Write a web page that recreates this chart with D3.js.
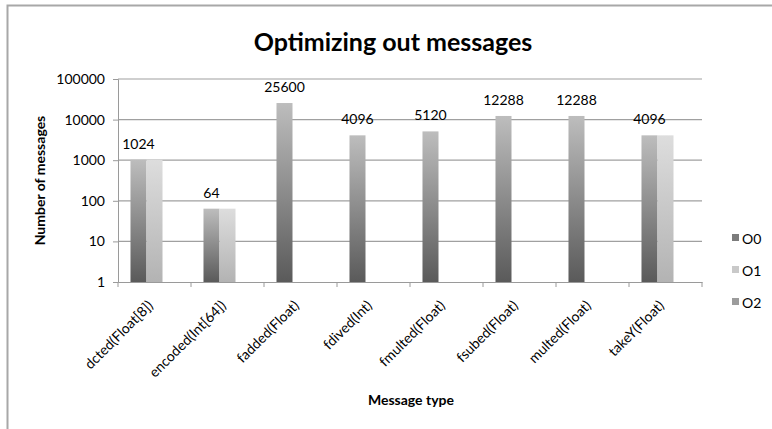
<!DOCTYPE html>
<html lang="en">
<head>
    <meta charset="UTF-8">
    <title>Optimizing out messages</title>
    <script src="https://d3js.org/d3.v7.min.js"></script>
    <style>
        body {
            margin: 0;
            background: #fff;
            font-family: Lato, 'Open Sans', sans-serif;
        }
        .tick text { font-size: 14px; fill: #000; }
        .bar-label { font-size: 14px; fill: #000; }
        .legend text { font-size: 14px; fill: #000; }
    </style>
</head>
<body>
    <div id="chart"></div>

    <script>
        // Data
        const categories = ['dcted(Float[8])', 'encoded(Int[64])', 'fadded(Float)', 'fdived(Int)',
                            'fmulted(Float)', 'fsubed(Float)', 'multed(Float)', 'takeY(Float)'];
        const seriesNames = ['O0', 'O1', 'O2'];
        const o0Values = [1024, 64, 25600, 4096, 5120, 12288, 12288, 4096];
        const o1Values = [1024, 64, null, null, null, null, null, 4096];
        const o2Values = [null, null, null, null, null, null, null, null];
        const yTicks = [1, 10, 100, 1000, 10000, 100000];

        const seriesValues = [o0Values, o1Values, o2Values];

        // Layout
        const width = 772, height = 429;
        const margin = { top: 79, right: 70, bottom: 147, left: 118 };
        const plotW = width - margin.left - margin.right;
        const plotH = height - margin.top - margin.bottom;

        // gradient stops per series: [top, bottom]
        const gradColors = {
            O0: ['#bdbdbd', '#5a5a5a'],
            O1: ['#dddddd', '#b3b3b3'],
            O2: ['#c4c4c4', '#858585']
        };
        const swatchColors = { O0: '#7c7c7c', O1: '#c9c9c9', O2: '#9c9c9c' };

        const svg = d3.select('#chart')
            .append('svg')
            .attr('width', width)
            .attr('height', height);

        const defs = svg.append('defs');
        seriesNames.forEach(s => {
            const grad = defs.append('linearGradient')
                .attr('id', 'grad-' + s)
                .attr('x1', 0).attr('y1', 0)
                .attr('x2', 0).attr('y2', 1);
            grad.append('stop').attr('offset', '0%').attr('stop-color', gradColors[s][0]);
            grad.append('stop').attr('offset', '100%').attr('stop-color', gradColors[s][1]);
        });

        // Outer frame
        svg.append('rect')
            .attr('x', 7.5).attr('y', 5.5)
            .attr('width', width + 10).attr('height', height + 10)
            .attr('fill', 'none')
            .attr('stroke', '#a8a8a8')
            .attr('stroke-width', 2);

        const g = svg.append('g')
            .attr('transform', `translate(${margin.left},${margin.top})`);

        // Scales
        const x0 = d3.scaleBand()
            .domain(categories)
            .range([0, plotW]);

        const x1 = d3.scaleBand()
            .domain(seriesNames)
            .range([0, x0.bandwidth()])
            .paddingOuter(0.78);

        const y = d3.scaleLog()
            .domain([1, 100000])
            .range([plotH, 0]);

        // Gridlines
        g.append('g')
            .selectAll('line')
            .data(yTicks.slice(1))
            .enter().append('line')
            .attr('x1', 0).attr('x2', plotW)
            .attr('y1', d => y(d)).attr('y2', d => y(d))
            .attr('stroke', '#a0a0a0')
            .attr('stroke-width', 1.2);

        // Y axis
        const yAxis = g.append('g')
            .call(d3.axisLeft(y).tickValues(yTicks).tickFormat(d3.format('d')).tickSize(5).tickPadding(8));
        yAxis.select('.domain').attr('stroke', '#9a9a9a');
        yAxis.selectAll('.tick line').attr('stroke', '#9a9a9a');
        yAxis.selectAll('.tick text').style('font-family', 'Lato, sans-serif');

        // X axis
        const xAxis = g.append('g')
            .attr('transform', `translate(0,${plotH})`)
            .call(d3.axisBottom(x0).tickSize(0).tickFormat(''));
        xAxis.select('.domain').attr('stroke', '#9a9a9a');
        // Category boundary ticks
        g.append('g')
            .selectAll('line')
            .data(d3.range(categories.length + 1))
            .enter().append('line')
            .attr('x1', i => i * x0.step()).attr('x2', i => i * x0.step())
            .attr('y1', plotH).attr('y2', plotH + 5)
            .attr('stroke', '#9a9a9a');

        // X labels rotated
        g.append('g')
            .selectAll('text')
            .data(categories)
            .enter().append('text')
            .attr('transform', d => `translate(${x0(d) + x0.bandwidth() / 2 - 4},${plotH + 21}) rotate(-45)`)
            .attr('text-anchor', 'end')
            .attr('dy', '0.35em')
            .style('font-size', '14px')
            .text(d => d);

        // Bars
        const groups = g.append('g')
            .selectAll('g')
            .data(categories)
            .enter().append('g')
            .attr('transform', d => `translate(${x0(d)},0)`);

        groups.selectAll('rect')
            .data((d, ci) => seriesNames.map((s, si) => ({ s, v: seriesValues[si][ci] })).filter(e => e.v != null))
            .enter().append('rect')
            .attr('x', d => x1(d.s))
            .attr('width', x1.bandwidth())
            .attr('y', d => y(d.v))
            .attr('height', d => plotH - y(d.v))
            .attr('fill', d => `url(#grad-${d.s})`);

        // Data labels (O0 series)
        g.append('g')
            .selectAll('text')
            .data(categories)
            .enter().append('text')
            .attr('class', 'bar-label')
            .attr('x', d => x0(d) + x1('O0') + x1.bandwidth() / 2)
            .attr('y', (d, i) => y(o0Values[i]) - 11)
            .attr('text-anchor', 'middle')
            .text((d, i) => o0Values[i]);

        // Title
        svg.append('text')
            .attr('x', 393)
            .attr('y', 51)
            .attr('text-anchor', 'middle')
            .style('font-size', '25px')
            .style('font-weight', 'bold')
            .text('Optimizing out messages');

        // Axis titles
        svg.append('text')
            .attr('transform', `translate(45,${margin.top + plotH / 2}) rotate(-90)`)
            .attr('text-anchor', 'middle')
            .style('font-size', '14px')
            .style('font-weight', 'bold')
            .text('Number of messages');

        svg.append('text')
            .attr('x', 411)
            .attr('y', 405)
            .attr('text-anchor', 'middle')
            .style('font-size', '14px')
            .style('font-weight', 'bold')
            .text('Message type');

        // Legend
        const legend = svg.append('g')
            .attr('class', 'legend')
            .attr('transform', 'translate(732,239)');

        const item = legend.selectAll('g')
            .data(seriesNames)
            .enter().append('g')
            .attr('transform', (d, i) => `translate(0,${i * 32})`);

        item.append('rect')
            .attr('x', 0).attr('y', -5)
            .attr('width', 7).attr('height', 7)
            .attr('fill', d => swatchColors[d]);

        item.append('text')
            .attr('x', 10)
            .attr('y', 0)
            .attr('dy', '0.35em')
            .text(d => d);
    </script>
</body>
</html>
